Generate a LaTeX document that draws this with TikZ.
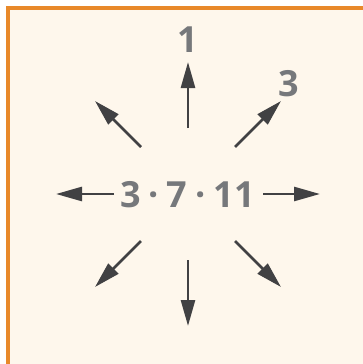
\documentclass[tikz,border=0pt]{standalone}
\usepackage{fontspec}
\setmainfont{Open Sans}
\usetikzlibrary{arrows.meta}
\definecolor{bgc}{HTML}{FEF7EC}
\definecolor{framec}{HTML}{E8892A}
\definecolor{txtc}{HTML}{76787B}
\definecolor{arrc}{HTML}{414143}
\tikzset{
  lbl/.style={text=txtc, font=\fontsize{36}{40}\selectfont\bfseries, inner sep=0pt},
  ray/.style={draw=arrc, line width=2.6pt, -{Triangle[length=26pt,width=14pt]}}
}
\begin{document}
\begin{tikzpicture}[x=1pt,y=-1pt]
\useasboundingbox (0,0) rectangle (363,364);
\fill[white] (0,0) rectangle (363,364);
\begin{scope}
\clip (0,0) rectangle (363,364);
\draw[framec, line width=4pt, fill=bgc] (8,8) rectangle (400,400);
\end{scope}
\node[lbl] (c) at (187.5,195) {3\hspace{8pt}·\hspace{8pt}7\hspace{8pt}·\hspace{8pt}11};
\node[lbl] (one) at (188,40) {1};
\node[lbl] (three) at (289,84) {3};
\coordinate (n0) at (188,128); \coordinate (n1) at (188,62);
\coordinate (s0) at (188,260); \coordinate (s1) at (188,326);
\coordinate (w0) at (114,194); \coordinate (w1) at (56,194);
\coordinate (e0) at (263,194); \coordinate (e1) at (320,194);
\coordinate (ne0) at (235,147); \coordinate (ne1) at (281,101);
\coordinate (nw0) at (141,147); \coordinate (nw1) at (95,101);
\coordinate (sw0) at (141,241); \coordinate (sw1) at (95,287);
\coordinate (se0) at (235,241); \coordinate (se1) at (281,287);
\foreach \d in {n,s,w,e,ne,nw,sw,se} \draw[ray] (\d0) -- (\d1);
\end{tikzpicture}
\end{document}
